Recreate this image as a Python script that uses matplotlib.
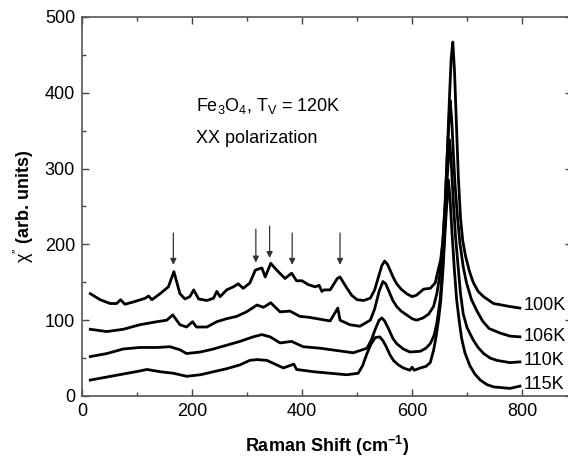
import matplotlib
matplotlib.use('Agg')
import matplotlib.pyplot as plt
from matplotlib.ticker import MultipleLocator

plt.rcParams['font.family'] = ['Liberation Sans', 'DejaVu Sans']
plt.rcParams['mathtext.fontset'] = 'custom'
plt.rcParams['mathtext.rm'] = 'Liberation Sans'
plt.rcParams['mathtext.it'] = 'Liberation Sans:italic'
plt.rcParams['mathtext.bf'] = 'Liberation Sans:bold'

# ---- spectra (Raman shift cm-1, chi'' arb. units) ----
x_100K = [15, 33, 51, 63, 70, 78, 93, 115, 121, 127, 142, 157, 167, 178, 187, 196, 203, 212, 227,
          239, 245, 251, 263, 275, 284, 293, 305, 315, 327, 333, 343, 354, 369, 381, 390, 400, 411,
          424, 431, 436, 440, 451, 464, 469, 480, 490, 500, 512, 524, 532, 540, 545, 550, 555, 560,
          566, 572, 580, 590, 600, 608, 621, 633, 642, 648, 652, 656, 660, 664, 668, 671, 674, 677,
          680, 684, 688, 692, 697, 704, 711, 720, 730, 748, 778, 796]
y_100K = [135, 127, 122, 122, 127, 121, 124, 129, 132, 127, 135, 144, 164, 135, 128, 131, 140, 128, 126,
          129, 138, 131, 140, 144, 148, 142, 149, 166, 169, 157, 175, 166, 155, 162, 152, 152, 147,
          144, 146, 138, 140, 140, 155, 157, 144, 133, 127, 126, 129, 140, 160, 172, 178, 174, 166,
          156, 148, 141, 135, 131, 133, 141, 142, 149, 168, 180, 205, 250, 320, 395, 445, 467, 430,
          370, 290, 235, 205, 185, 165, 150, 138, 131, 122, 118, 116]

x_106K = [15, 45, 75, 105, 136, 154, 165, 178, 190, 201, 208, 227, 245, 263, 281, 299, 318, 330, 343,
          360, 378, 396, 411, 427, 451, 465, 469, 487, 505, 524, 532, 540, 547, 552, 558, 565, 572,
          580, 590, 600, 608, 620, 630, 639, 645, 651, 656, 660, 664, 669, 672, 675, 678, 682, 687,
          693, 699, 708, 718, 728, 740, 760, 778, 796]
y_106K = [88, 85, 88, 94, 98, 100, 107, 94, 91, 98, 91, 91, 98, 102, 105, 111, 120, 117, 123,
          111, 112, 105, 104, 102, 99, 116, 100, 94, 92, 100, 115, 138, 151, 148, 138, 126, 118,
          112, 107, 102, 100, 103, 108, 118, 135, 162, 205, 255, 320, 390, 365, 320, 280, 240, 201,
          170, 149, 127, 112, 99, 89, 83, 79, 78]

x_110K = [15, 45, 75, 105, 136, 160, 178, 190, 215, 239, 263, 287, 311, 327, 342, 360, 381, 402, 433,
          463, 493, 518, 526, 533, 540, 545, 550, 557, 565, 572, 584, 596, 615, 625, 633, 640, 645,
          651, 656, 660, 664, 668, 671, 675, 679, 684, 688, 693, 700, 711, 720, 730, 742, 754, 778, 796]
y_110K = [52, 56, 62, 64, 64, 65, 61, 56, 58, 62, 67, 72, 78, 81, 78, 70, 72, 65, 63,
          60, 57, 63, 74, 88, 100, 103, 99, 89, 76, 69, 62, 58, 59, 63, 69, 80, 96,
          127, 175, 230, 290, 338, 310, 255, 210, 168, 135, 108, 90, 74, 64, 56, 50, 47, 44, 45]

x_115K = [15, 45, 75, 105, 118, 142, 166, 190, 215, 239, 263, 287, 305, 318, 336, 354, 366, 385, 390,
          421, 451, 481, 502, 510, 518, 525, 533, 541, 547, 553, 560, 566, 575, 584, 596, 600, 604,
          615, 625, 633, 639, 644, 648, 652, 656, 661, 666, 669, 673, 677, 681, 686, 690, 696, 705,
          714, 724, 736, 748, 778, 796]
y_115K = [21, 25, 29, 33, 35, 32, 30, 26, 28, 32, 36, 41, 47, 48, 47, 41, 37, 42, 35,
          32, 30, 28, 30, 40, 56, 68, 77, 78, 73, 65, 54, 47, 41, 37, 34, 38, 34,
          37, 39, 44, 60, 80, 100, 125, 165, 230, 285, 260, 210, 165, 127, 97, 76, 57, 40,
          29, 21, 15, 12, 10, 13]

temps = ['100K', '106K', '110K', '115K']
label_y = [119, 79, 47, 15]

# arrows marking the extra modes
arrow_x = [166, 316, 341, 382, 469]
arrow_top = [215, 220, 224, 215, 215]
arrow_tip = [173, 176, 182, 173, 173]

fig = plt.figure(figsize=(5.68, 4.58), dpi=100)
ax = fig.add_axes([0.1444, 0.1354, 0.862, 0.8275])

for xs, ys in [(x_100K, y_100K), (x_106K, y_106K), (x_110K, y_110K), (x_115K, y_115K)]:
    ax.plot(xs, ys, color='black', lw=2.0, solid_joinstyle='round')

for t, ly in zip(temps, label_y):
    ax.text(803, ly, t, fontsize=13, ha='left', va='center')

for xa, yt, yb in zip(arrow_x, arrow_top, arrow_tip):
    ax.annotate('', xy=(xa, yb), xytext=(xa, yt),
                arrowprops=dict(arrowstyle='-|>', color='#333333', lw=0.9,
                                mutation_scale=9, shrinkA=0, shrinkB=0))

ax.text(207, 383, r'Fe$_3$O$_4$, T$_\mathrm{V}$ = 120K', fontsize=13, ha='left', va='center')
ax.text(207, 340, 'XX polarization', fontsize=13, ha='left', va='center')

ax.set_xlim(0, 890)
ax.set_ylim(0, 500)
ax.xaxis.set_major_locator(MultipleLocator(200))
ax.xaxis.set_minor_locator(MultipleLocator(100))
ax.yaxis.set_major_locator(MultipleLocator(100))
ax.yaxis.set_minor_locator(MultipleLocator(50))
ax.tick_params(which='both', direction='in', top=True, right=True, labelsize=13,
               color='#444444')
ax.tick_params(which='major', length=5, width=1, pad=5)
ax.tick_params(which='minor', length=3, width=1)
for s in ax.spines.values():
    s.set_color('#555555')
    s.set_linewidth(1.2)

ax.set_xlabel(r'Raman Shift (cm$^{\mathbf{-1}}$)', fontsize=13, fontweight='bold', labelpad=10)
ax.set_ylabel(r"$\mathrm{\chi}''$ (arb. units)", fontsize=13, fontweight='bold', labelpad=6)

fig.savefig('out.png', dpi=100)
